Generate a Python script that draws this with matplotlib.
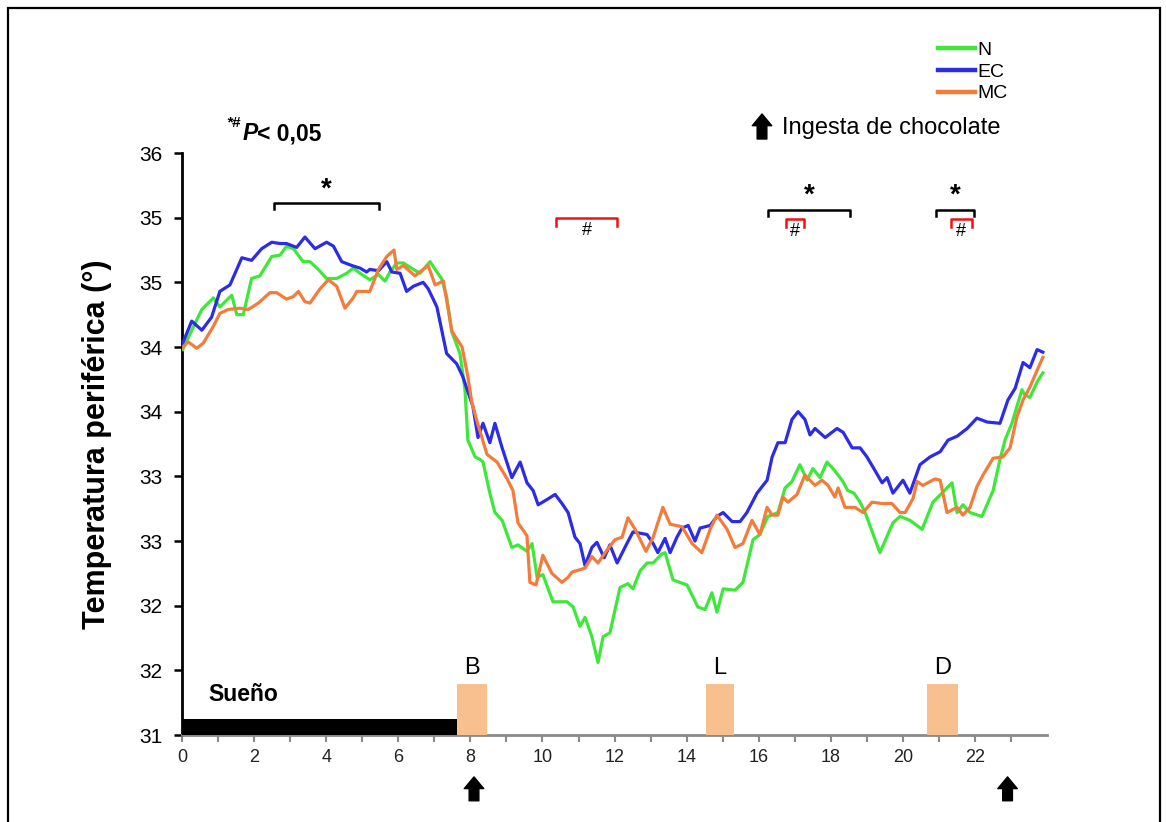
import matplotlib
matplotlib.use("Agg")
import matplotlib.pyplot as plt
from matplotlib.patches import Rectangle
from matplotlib.lines import Line2D

plt.rcParams['font.family'] = ['Liberation Sans', 'DejaVu Sans']

W, H = 1166, 822

# ---------------- data ----------------
ec_hours = [0.02, 0.27, 0.55, 0.82, 1.05, 1.33, 1.66, 1.93, 2.21, 2.49, 2.72, 2.90, 3.18, 3.41, 3.69, 4.01,
            4.20, 4.43, 4.71, 4.94, 5.12, 5.21, 5.45, 5.68, 5.82, 6.05, 6.23, 6.42, 6.69, 6.83, 7.07, 7.34,
            7.62, 7.79, 8.07, 8.21, 8.35, 8.54, 8.68, 8.88, 9.15, 9.38, 9.57, 9.74, 9.88, 10.12, 10.35, 10.54,
            10.71, 10.90, 11.04, 11.18, 11.37, 11.51, 11.71, 11.87, 12.07, 12.34, 12.51, 12.71, 12.90, 13.07,
            13.20, 13.40, 13.54, 13.73, 13.87, 14.04, 14.23, 14.37, 14.65, 14.84, 15.01, 15.26, 15.48, 15.67,
            15.95, 16.23, 16.37, 16.53, 16.73, 16.92, 17.09, 17.28, 17.42, 17.56, 17.84, 18.17, 18.34, 18.59,
            18.81, 19.00, 19.17, 19.42, 19.56, 19.72, 20.00, 20.19, 20.47, 20.75, 21.03, 21.25, 21.50, 21.78,
            22.05, 22.33, 22.69, 22.91, 23.11, 23.33, 23.52, 23.72, 23.88]
ec_temp = [34.53, 34.70, 34.63, 34.73, 34.93, 34.98, 35.19, 35.17, 35.26, 35.31, 35.30, 35.30, 35.27, 35.35, 35.26, 35.31,
           35.28, 35.16, 35.13, 35.11, 35.08, 35.10, 35.09, 35.16, 35.08, 35.07, 34.93, 34.97, 35.00, 34.95, 34.81, 34.45,
           34.37, 34.27, 34.04, 33.80, 33.91, 33.76, 33.91, 33.72, 33.49, 33.61, 33.45, 33.39, 33.28, 33.32, 33.36, 33.29,
           33.22, 33.03, 32.98, 32.81, 32.95, 32.99, 32.87, 32.97, 32.83, 32.98, 33.07, 33.06, 33.05, 32.98,
           32.91, 33.02, 32.91, 33.03, 33.10, 33.12, 33.00, 33.10, 33.12, 33.19, 33.22, 33.15, 33.15, 33.22,
           33.37, 33.47, 33.65, 33.76, 33.76, 33.94, 34.00, 33.94, 33.82, 33.87, 33.80, 33.87, 33.84, 33.72,
           33.72, 33.65, 33.57, 33.45, 33.49, 33.37, 33.47, 33.37, 33.59, 33.65, 33.69, 33.78, 33.81, 33.87,
           33.95, 33.92, 33.91, 34.09, 34.18, 34.38, 34.34, 34.48, 34.46]

n_hours = [0.02, 0.27, 0.55, 0.87, 1.05, 1.38, 1.52, 1.70, 1.93, 2.16, 2.49, 2.72, 2.90, 3.09, 3.36, 3.55,
           3.78, 4.01, 4.29, 4.57, 4.75, 4.94, 5.21, 5.45, 5.63, 5.77, 5.96, 6.14, 6.42, 6.60, 6.88, 7.07,
           7.20, 7.34, 7.48, 7.71, 7.85, 7.93, 8.13, 8.27, 8.35, 8.54, 8.68, 8.88, 9.15, 9.32, 9.57, 9.71,
           9.85, 10.01, 10.29, 10.68, 10.85, 11.04, 11.18, 11.37, 11.54, 11.68, 11.87, 12.15, 12.37, 12.51,
           12.71, 12.90, 13.07, 13.31, 13.40, 13.62, 13.81, 14.01, 14.31, 14.51, 14.70, 14.84, 15.01, 15.34,
           15.56, 15.84, 16.03, 16.25, 16.53, 16.73, 16.92, 17.14, 17.34, 17.50, 17.70, 17.89, 18.06, 18.31,
           18.47, 18.64, 18.81, 18.95, 19.36, 19.72, 19.92, 20.19, 20.53, 20.83, 21.08, 21.36, 21.50, 21.66,
           21.86, 22.19, 22.50, 22.69, 22.83, 23.02, 23.16, 23.30, 23.38, 23.52, 23.74, 23.88]
n_temp = [34.48, 34.63, 34.79, 34.88, 34.81, 34.90, 34.75, 34.75, 35.03, 35.05, 35.20, 35.21, 35.28, 35.26, 35.16, 35.16,
          35.10, 35.03, 35.03, 35.07, 35.11, 35.07, 35.02, 35.06, 35.01, 35.08, 35.15, 35.15, 35.10, 35.07, 35.16, 35.08,
          35.03, 34.89, 34.62, 34.45, 34.17, 33.78, 33.65, 33.63, 33.61, 33.37, 33.22, 33.16, 32.95, 32.97, 32.92, 32.98,
          32.72, 32.74, 32.53, 32.53, 32.49, 32.34, 32.41, 32.26, 32.06, 32.26, 32.29, 32.64, 32.67, 32.63,
          32.77, 32.83, 32.83, 32.90, 32.91, 32.70, 32.68, 32.66, 32.49, 32.47, 32.60, 32.45, 32.63, 32.62,
          32.68, 33.01, 33.05, 33.19, 33.22, 33.41, 33.46, 33.59, 33.47, 33.56, 33.49, 33.61, 33.56, 33.47,
          33.39, 33.37, 33.30, 33.22, 32.91, 33.14, 33.19, 33.16, 33.09, 33.30, 33.37, 33.45, 33.22, 33.28,
          33.22, 33.19, 33.39, 33.63, 33.78, 33.91, 34.04, 34.17, 34.13, 34.11, 34.24, 34.30]

mc_hours = [0.02, 0.17, 0.41, 0.59, 0.87, 1.05, 1.28, 1.61, 1.84, 2.12, 2.44, 2.63, 2.90, 3.09, 3.23, 3.41,
            3.55, 3.83, 4.06, 4.29, 4.52, 4.75, 4.85, 5.21, 5.45, 5.68, 5.88, 5.96, 6.14, 6.46, 6.69, 6.83,
            7.02, 7.25, 7.49, 7.77, 7.93, 8.04, 8.21, 8.46, 8.74, 9.02, 9.18, 9.32, 9.57, 9.65, 9.82, 10.01,
            10.26, 10.54, 10.71, 10.82, 11.18, 11.37, 11.54, 11.79, 12.01, 12.21, 12.37, 12.57, 12.87, 13.07,
            13.34, 13.54, 13.87, 14.15, 14.42, 14.65, 14.84, 15.12, 15.34, 15.56, 15.81, 16.03, 16.23, 16.37,
            16.53, 16.67, 16.81, 17.06, 17.28, 17.56, 17.75, 17.92, 18.11, 18.20, 18.39, 18.67, 18.89, 19.14,
            19.42, 19.69, 19.92, 20.06, 20.28, 20.39, 20.55, 20.89, 21.03, 21.22, 21.50, 21.66, 21.86, 22.05,
            22.22, 22.50, 22.77, 22.97, 23.16, 23.33, 23.52, 23.72, 23.88]
mc_temp = [34.50, 34.54, 34.49, 34.53, 34.66, 34.76, 34.79, 34.80, 34.79, 34.84, 34.92, 34.92, 34.87, 34.89, 34.93, 34.85,
           34.84, 34.95, 35.02, 34.97, 34.80, 34.88, 34.93, 34.93, 35.10, 35.20, 35.25, 35.10, 35.13, 35.05, 35.10, 35.13,
           34.98, 35.01, 34.62, 34.50, 34.27, 34.07, 33.90, 33.67, 33.61, 33.48, 33.39, 33.14, 33.04, 32.68, 32.66, 32.89,
           32.75, 32.68, 32.72, 32.76, 32.79, 32.88, 32.83, 32.93, 33.01, 33.03, 33.18, 33.09, 32.92, 33.03,
           33.26, 33.13, 33.11, 32.98, 32.91, 33.09, 33.20, 33.09, 32.95, 32.98, 33.16, 33.05, 33.26, 33.20,
           33.20, 33.34, 33.30, 33.36, 33.51, 33.43, 33.47, 33.43, 33.34, 33.41, 33.26, 33.26, 33.22, 33.30,
           33.29, 33.29, 33.22, 33.22, 33.33, 33.46, 33.43, 33.48, 33.47, 33.22, 33.26, 33.20, 33.26, 33.42,
           33.51, 33.64, 33.65, 33.72, 33.96, 34.09, 34.19, 34.32, 34.42]

series_names = ['N', 'EC', 'MC']
series_colors = ['#3ee83a', '#2b2be8', '#f47b3a']

y_ticks = [31.5, 32.0, 32.5, 33.0, 33.5, 34.0, 34.5, 35.0, 35.5, 36.0]
y_tick_labels = ['31', '32', '32', '33', '33', '34', '34', '35', '35', '36']
x_major = [0, 2, 4, 6, 8, 10, 12, 14, 16, 18, 20, 22]

sleep_span = (0.0, 7.63)
meal_labels = ['B', 'L', 'D']
meal_spans = [(7.63, 8.46), (14.54, 15.31), (20.67, 21.53)]
intake_hours = [8.1, 22.9]

star_spans = [(2.55, 5.46), (16.26, 18.53), (20.92, 21.97)]
hash_spans = [(10.37, 12.07), (16.75, 17.25), (21.33, 21.91)]

# ---------------- figure ----------------
fig = plt.figure(figsize=(W / 100, H / 100), dpi=100)
x0, x1 = 182, 182 + 24 * 36.05
ax = fig.add_axes([x0 / W, (H - 735) / H, (x1 - x0) / W, (735 - 153) / H])

handles = []
for hrs, tmp, name, col in zip([n_hours, ec_hours, mc_hours], [n_temp, ec_temp, mc_temp],
                               series_names, series_colors):
    ax.plot(hrs, tmp, color=col, lw=2.3, solid_joinstyle='round', zorder=3)
    handles.append(Line2D([], [], color=col, lw=3.2, label=name))

ax.set_xlim(0, 24)
ax.set_ylim(31.5, 36)
ax.set_yticks(y_ticks)
ax.set_yticklabels(y_tick_labels, fontsize=15)
ax.set_xticks(x_major)
ax.set_xticklabels([str(v) for v in x_major], fontsize=13, color='#222222')
ax.set_xticks(range(0, 24), minor=True)

for s in ['top', 'right']:
    ax.spines[s].set_visible(False)
ax.spines['left'].set_linewidth(2)
ax.spines['left'].set_color('black')
ax.spines['bottom'].set_linewidth(2)
ax.spines['bottom'].set_color('#8a8a8a')
ax.tick_params(axis='y', direction='out', length=6, width=1.8, color='black', pad=8)
ax.tick_params(axis='x', which='both', direction='out', length=5, width=1.5, color='#8a8a8a', pad=5)

ax.set_ylabel('Temperatura periférica (°)', fontsize=22, fontweight='bold', labelpad=20)

# sleep bar and meals
ax.add_patch(Rectangle((sleep_span[0], 31.5), sleep_span[1] - sleep_span[0], 0.125,
                       facecolor='black', edgecolor='none', zorder=4, clip_on=False))
for lab, (a, b) in zip(meal_labels, meal_spans):
    ax.add_patch(Rectangle((a, 31.5), b - a, 0.395, facecolor='#f9c08f', edgecolor='none', zorder=4,
                           clip_on=False))
    ax.text((a + b) / 2, 32.02, lab, ha='center', va='center', fontsize=17)
ax.text(1.69, 31.81, 'Sueño', ha='center', va='center', fontsize=16.5, fontweight='bold')

# intake arrows below axis
xt = ax.get_xaxis_transform()
for h in intake_hours:
    ax.annotate('', xy=(h, -0.072), xytext=(h, -0.113), xycoords=xt, textcoords=xt,
                annotation_clip=False,
                arrowprops=dict(arrowstyle='simple,head_length=0.6,head_width=1.0,tail_width=0.5',
                                mutation_scale=14, color='black', shrinkA=0, shrinkB=0))

# significance brackets
tick_h = 0.045
for (a, b), yb in zip(star_spans, [35.61, 35.56, 35.56]):
    ax.plot([a, a, b, b], [yb - tick_h, yb, yb, yb - tick_h], color='black', lw=1.8, zorder=5)
    ax.text((a + b) / 2, yb + 0.01, '*', ha='center', va='bottom', fontsize=20, fontweight='bold')
for (a, b), yb in zip(hash_spans, [35.5, 35.49, 35.49]):
    ax.plot([a, a, b, b], [yb - tick_h * 1.4, yb, yb, yb - tick_h * 1.4], color='#ee1111', lw=1.8, zorder=5)
    ax.text((a + b) / 2, yb - 0.03, '#', ha='center', va='top', fontsize=13)

# legend
leg = fig.legend(handles=handles, loc='upper left', bbox_to_anchor=(938 / W, 1 - 41 / H), frameon=False,
                 fontsize=14, handlelength=1.9, handletextpad=0.1, labelspacing=0.22,
                 borderpad=0, borderaxespad=0)

# chocolate intake legend
ax.annotate('', xy=(762, H - 114), xytext=(762, H - 139), xycoords='figure pixels',
            textcoords='figure pixels', annotation_clip=False,
            arrowprops=dict(arrowstyle='simple,head_length=0.6,head_width=1.0,tail_width=0.5',
                            mutation_scale=14, color='black', shrinkA=0, shrinkB=0))
fig.text(782 / W, 1 - 128 / H, 'Ingesta de chocolate', ha='left', va='center', fontsize=17)

# p-value note
fig.text(226 / W, 1 - 123 / H, '*#', ha='left', va='center', fontsize=11, fontweight='bold', style='italic')
fig.text(243 / W, 1 - 134 / H, 'P', ha='left', va='center', fontsize=16.5, fontweight='bold', style='italic')
fig.text(257 / W, 1 - 134 / H, '< 0,05', ha='left', va='center', fontsize=16.5, fontweight='bold')

# outer frame
fig.add_artist(Rectangle((8 / W, -0.05), (1160 - 8) / W, 1.05 - 8 / H, transform=fig.transFigure,
                         fill=False, edgecolor='black', lw=1.6))

fig.savefig('out.png', dpi=100)
